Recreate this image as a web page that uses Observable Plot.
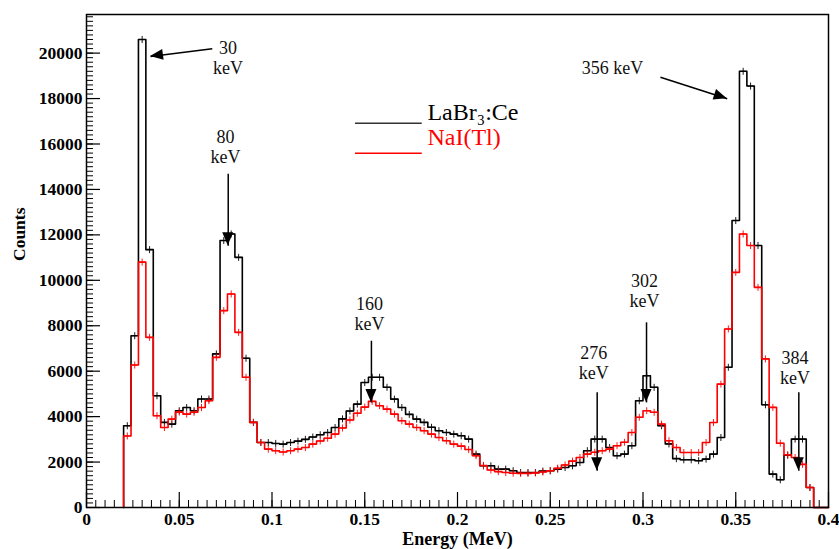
<!DOCTYPE html>
<html>
<head>
<meta charset="utf-8">
<script src="https://cdn.jsdelivr.net/npm/d3@7"></script>
<script src="https://cdn.jsdelivr.net/npm/@observablehq/plot@0.6"></script>
<style>
html, body { margin: 0; padding: 0; background: #fff; }
#chart svg { display: block; }
</style>
</head>
<body>
<div id="chart"></div>
<script>
// ---- Data ----
// Left edges of the histogram bins (MeV); every bin is 0.004 MeV wide
const binLeft = [
  0.020,0.024,0.028,0.032,0.036,0.040,0.044,0.048,0.052,0.056,
  0.060,0.064,0.068,0.072,0.076,0.080,0.084,0.088,0.092,0.096,
  0.100,0.104,0.108,0.112,0.116,0.120,0.124,0.128,0.132,0.136,
  0.140,0.144,0.148,0.152,0.156,0.160,0.164,0.168,0.172,0.176,
  0.180,0.184,0.188,0.192,0.196,0.200,0.204,0.208,0.212,0.216,
  0.220,0.224,0.228,0.232,0.236,0.240,0.244,0.248,0.252,0.256,
  0.260,0.264,0.268,0.272,0.276,0.280,0.284,0.288,0.292,0.296,
  0.300,0.304,0.308,0.312,0.316,0.320,0.324,0.328,0.332,0.336,
  0.340,0.344,0.348,0.352,0.356,0.360,0.364,0.368,0.372,0.376,
  0.380,0.384,0.388,0.392,0.396
];
const binWidth = 0.004;

// LaBr3:Ce counts per bin (black)
const labrCounts = [
  3600, 7560, 20600, 11350, 4920, 3745, 3670, 4260, 4400, 4260,
  4775, 4775, 6760, 11750, 12040, 11010, 6570, 3745, 2860, 2860,
  2820, 2790, 2860, 2920, 3000, 3100, 3200, 3300, 3520, 3900,
  4250, 4550, 5500, 5730, 5730, 5290, 4770, 4400, 4100, 3890,
  3745, 3530, 3380, 3300, 3230, 3160, 3010, 2350, 1835, 1835,
  1690, 1690, 1620, 1540, 1540, 1540, 1600, 1620, 1690, 1760,
  1835, 1980, 2500, 3010, 3010, 2640, 2280, 2350, 2720, 4700,
  5800, 5290, 3600, 2800, 2150, 2100, 2100, 2060, 2130, 2350,
  3080, 6170, 12630, 19200, 18550, 11530, 4520, 1470, 1220, 2300,
  3010, 3010, 880, 0, 0
];

// NaI(Tl) counts per bin (red)
const naiCounts = [
  3150, 6270, 10800, 7490, 4040, 3520, 3890, 4200, 4110, 4190,
  4400, 4700, 6610, 8665, 9400, 7710, 5730, 3745, 2863, 2570,
  2500, 2440, 2500, 2570, 2640, 2790, 2930, 3050, 3230, 3500,
  3850, 4150, 4420, 4670, 4480, 4330, 4110, 3820, 3670, 3520,
  3380, 3230, 3080, 2940, 2790, 2700, 2550, 2280, 1850, 1650,
  1580, 1540, 1510, 1500, 1500, 1520, 1560, 1620, 1730, 1870,
  2040, 2200, 2350, 2430, 2500, 2570, 2720, 2870, 3300, 3970,
  4260, 4190, 3670, 2940, 2640, 2420, 2420, 2420, 2860, 3740,
  5430, 7860, 10350, 12040, 11530, 9690, 6540, 4405, 2830, 2320,
  2200, 1900, 880, 0, 0
];

const seriesNames = ["LaBr\u2083:Ce", "NaI(Tl)"];
const seriesColors = ["#000000", "#ff0000"];

const xTickValues = [0, 0.05, 0.1, 0.15, 0.2, 0.25, 0.3, 0.35, 0.4];
const xTickLabels = ["0", "0.05", "0.1", "0.15", "0.2", "0.25", "0.3", "0.35", "0.4"];
const yTickValues = [0, 2000, 4000, 6000, 8000, 10000, 12000, 14000, 16000, 18000, 20000];
const yTickLabels = ["0", "2000", "4000", "6000", "8000", "10000", "12000", "14000", "16000", "18000", "20000"];

// Peak annotations (text centre, data coordinates)
const annoText = ["30\nkeV", "80\nkeV", "160\nkeV", "276\nkeV", "302\nkeV", "356 keV", "384\nkeV"];
const annoEnergy = [0.0763, 0.0749, 0.1526, 0.2735, 0.3008, 0.2836, 0.3819];
const annoCounts = [19800, 15870, 8520, 6390, 9530, 19380, 6170];
// Arrows (tail -> tip, data coordinates)
const arrowFromE = [0.0678, 0.0764, 0.1536, 0.2753, 0.3019, 0.3094, 0.3840];
const arrowFromC = [20190, 14690, 7340, 5070, 8150, 18940, 5070];
const arrowToE   = [0.0345, 0.0764, 0.1536, 0.2753, 0.3019, 0.3454, 0.3840];
const arrowToC   = [19850, 11520, 4625, 1617, 4625, 17990, 1617];

// ---- Build tables ----
function stepPoints(counts) {
  const pts = [{x: binLeft[0], y: 0}];
  counts.forEach((c, i) => pts.push({x: binLeft[i], y: c}));
  const last = binLeft.length - 1;
  pts.push({x: binLeft[last] + binWidth, y: counts[last]});
  return pts;
}
function centers(counts) {
  return counts.map((c, i) => ({x: binLeft[i] + binWidth / 2, y: c})).filter(d => d.y > 0);
}
const labrSteps = stepPoints(labrCounts);
const naiSteps = stepPoints(naiCounts);
const labrCenters = centers(labrCounts);
const naiCenters = centers(naiCounts);

const annotations = annoText.map((t, i) => ({text: t, x: annoEnergy[i], y: annoCounts[i]}));
const arrows = arrowFromE.map((e, i) => ({x1: e, y1: arrowFromC[i], x2: arrowToE[i], y2: arrowToC[i]}));

const xMinor = d3.range(0, 80.5, 1).map(k => k * 0.005);
const yMinor = d3.range(0, 109, 1).map(k => k * 200);

const W = 839, H = 549, mL = 86, mR = 11, mT = 14, mB = 42;
const innerW = W - mL - mR, innerH = H - mT - mB;
const xDomain = [0, 0.4], yDomain = [0, 21700];

function arrowHeads(index, scales, values, dimensions) {
  const sx = (scales && typeof scales.x === "function") ? scales.x : d3.scaleLinear(xDomain, [mL, W - mR]);
  const sy = (scales && typeof scales.y === "function") ? scales.y : d3.scaleLinear(yDomain, [H - mB, mT]);
  const g = d3.create("svg:g");
  arrows.forEach(a => {
    const x1 = sx(a.x1), y1 = sy(a.y1), x2 = sx(a.x2), y2 = sy(a.y2);
    const ang = Math.atan2(y2 - y1, x2 - x1);
    const L = 13, hw = 5.5;
    const bx = x2 - L * Math.cos(ang), by = y2 - L * Math.sin(ang);
    const px = -Math.sin(ang) * hw, py = Math.cos(ang) * hw;
    g.append("path")
      .attr("d", `M${x2},${y2}L${bx + px},${by + py}L${bx - px},${by - py}Z`)
      .attr("fill", "#000");
  });
  return g.node();
}

const chart = Plot.plot({
  width: W, height: H,
  marginLeft: mL, marginRight: mR, marginTop: mT, marginBottom: mB,
  style: {
    fontFamily: "'Liberation Serif', 'Times New Roman', serif",
    fontSize: "17.5px",
    fontWeight: "bold",
    color: "#000",
    background: "#fff",
    overflow: "visible"
  },
  x: {domain: xDomain, ticks: xTickValues, tickFormat: d => xTickLabels[xTickValues.indexOf(d)], tickSize: 0, tickPadding: 5, label: null},
  y: {domain: yDomain, ticks: yTickValues, tickFormat: d => yTickLabels[yTickValues.indexOf(d)], tickSize: 0, tickPadding: 4, label: null},
  marks: [
    // inside ticks (ROOT style)
    Plot.ruleX(xMinor, {x: d => d, insetTop: innerH - 7, stroke: "#000", strokeWidth: 1}),
    Plot.ruleX(xTickValues, {x: d => d, insetTop: innerH - 15, stroke: "#000", strokeWidth: 1.2}),
    Plot.ruleY(yMinor, {y: d => d, insetRight: innerW - 7, stroke: "#000", strokeWidth: 1}),
    Plot.ruleY(yTickValues, {y: d => d, insetRight: innerW - 14, stroke: "#000", strokeWidth: 1.2}),
    // histograms
    Plot.line(labrSteps, {x: "x", y: "y", curve: "step-after", stroke: seriesColors[0], strokeWidth: 1.6}),
    Plot.dot(labrCenters, {x: "x", y: "y", symbol: "plus", r: 2.4, stroke: seriesColors[0], strokeWidth: 0.9}),
    Plot.line(naiSteps, {x: "x", y: "y", curve: "step-after", stroke: seriesColors[1], strokeWidth: 1.6}),
    Plot.dot(naiCenters, {x: "x", y: "y", symbol: "plus", r: 2.4, stroke: seriesColors[1], strokeWidth: 0.9}),
    // legend
    Plot.ruleY([16915], {x1: 0.145, x2: 0.181, stroke: "#333", strokeWidth: 1.5}),
    Plot.ruleY([15594], {x1: 0.145, x2: 0.181, stroke: seriesColors[1], strokeWidth: 1.5}),
    Plot.text([seriesNames[0]], {text: d => d, x: 0.1838, y: 17380, textAnchor: "start", fill: seriesColors[0], fontSize: 24, fontWeight: "normal"}),
    Plot.text([seriesNames[1]], {text: d => d, x: 0.1838, y: 16315, textAnchor: "start", fill: seriesColors[1], fontSize: 24, fontWeight: "normal"}),
    // annotations
    Plot.link(arrows, {x1: "x1", y1: "y1", x2: "x2", y2: "y2", stroke: "#000", strokeWidth: 1.5}),
    arrowHeads,
    Plot.text(annotations, {x: "x", y: "y", text: "text", fontSize: 18, fontWeight: "normal", fill: "#111", lineHeight: 1.1}),
    // axis titles
    Plot.text(["Counts"], {text: d => d, frameAnchor: "left", dx: -67.5, rotate: -90, fontSize: 17.5, fontWeight: "bold"}),
    Plot.text(["Energy (MeV)"], {text: d => d, frameAnchor: "bottom", lineAnchor: "top", dy: 25, fontSize: 18, fontWeight: "bold"}),
    Plot.frame({stroke: "#000", strokeWidth: 1.5})
  ]
});
document.getElementById("chart").append(chart);
</script>
</body>
</html>
